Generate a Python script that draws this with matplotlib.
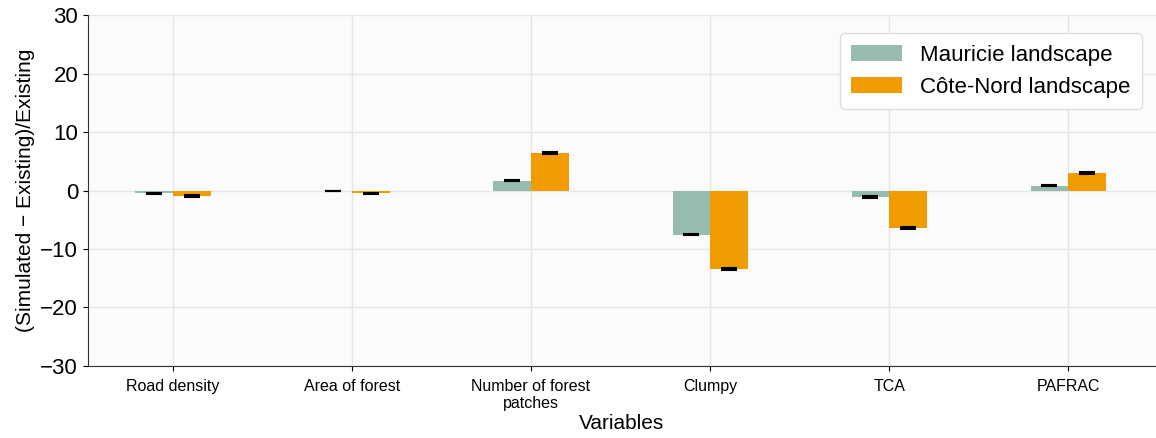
import numpy as np
import matplotlib.pyplot as plt

plt.rcParams['font.family'] = ['Liberation Sans', 'DejaVu Sans']

variables = ['Road density', 'Area of forest', 'Number of forest\npatches',
             'Clumpy', 'TCA', 'PAFRAC']
mauricie = [-0.5, -0.1, 1.7, -7.6, -1.1, 0.8]
mauricie_err = [0.1, 0.05, 0.1, 0.1, 0.1, 0.1]
cote_nord = [-1.0, -0.5, 6.4, -13.5, -6.4, 3.0]
cote_nord_err = [0.15, 0.15, 0.15, 0.15, 0.15, 0.15]

green = '#96bbb0'
orange = '#f09c00'

x = np.arange(len(variables))
w = 0.21

fig = plt.figure(figsize=(11.56, 4.38), dpi=100)
ax = fig.add_axes([0.076, 0.165, 0.924, 0.8])
ax.set_facecolor('#fbfbfb')
ax.grid(True, color='#e6e6e6', linewidth=1)
ax.set_axisbelow(True)

ax.bar(x - w / 2, mauricie, w, color=green, label='Mauricie landscape',
       yerr=mauricie_err, capsize=6,
       error_kw=dict(ecolor='black', elinewidth=1.0, capthick=1.5))
ax.bar(x + w / 2, cote_nord, w, color=orange, label='Côte-Nord landscape',
       yerr=cote_nord_err, capsize=6,
       error_kw=dict(ecolor='black', elinewidth=1.0, capthick=1.5))

ax.set_xlim(-0.475, 5.49)
ax.set_ylim(-30, 30)
ax.set_yticks([-30, -20, -10, 0, 10, 20, 30])
ax.set_xticks(x)
ax.set_xticklabels(variables, fontsize=11.5)
ax.tick_params(axis='y', labelsize=16)
ax.tick_params(axis='x', pad=6)
ax.set_xlabel('Variables', fontsize=15, labelpad=2)
ax.set_ylabel('(Simulated \u2212 Existing)/Existing', fontsize=15)

for s in ['top', 'right']:
    ax.spines[s].set_visible(False)
ax.spines['left'].set_color('#333333')
ax.spines['bottom'].set_color('#333333')

ax.legend(loc='upper right', fontsize=16, handlelength=2.3,
          borderpad=0.5, framealpha=1, edgecolor='#dddddd',
          bbox_to_anchor=(0.997, 0.98))

fig.savefig('out.png', dpi=100)
